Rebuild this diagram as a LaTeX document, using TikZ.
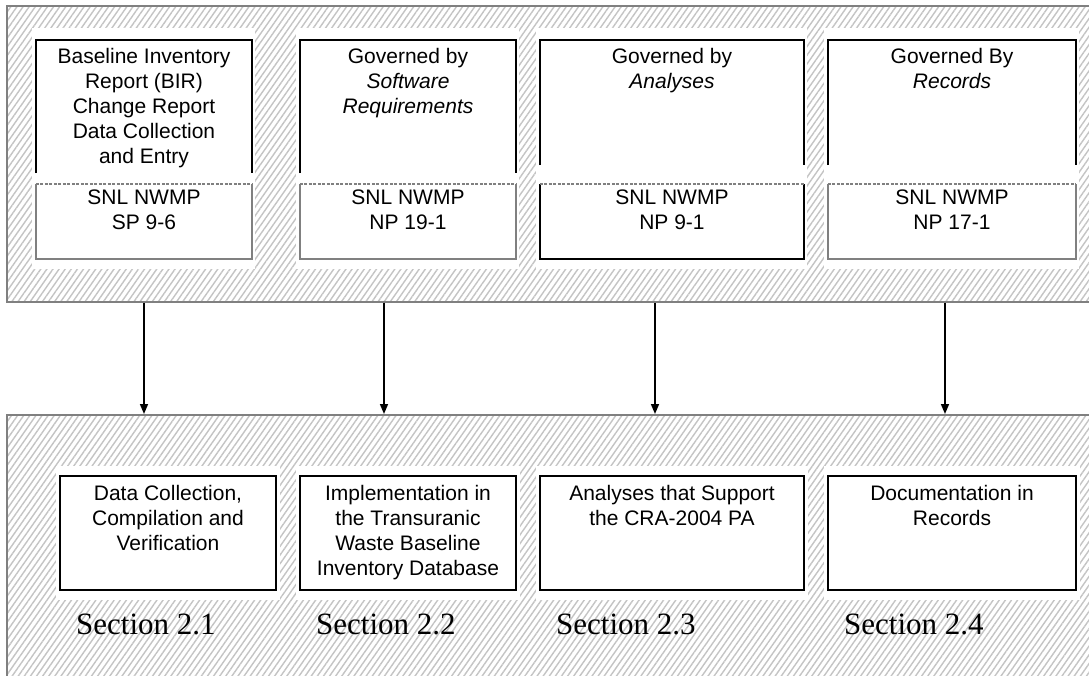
\documentclass[tikz,border=0pt]{standalone}
\usepackage{fontspec}
\setmainfont{Liberation Serif}
\newfontfamily\arial{Liberation Sans}
\usepackage{xcolor}
\usepackage{tikz}
\usetikzlibrary{arrows.meta,patterns.meta}
\definecolor{frame}{HTML}{808080}
\definecolor{hatch}{HTML}{C4C4C4}
\tikzset{
  outer/.style={draw=frame, line width=2pt, inner sep=0pt,
    pattern={Lines[angle=55,distance=5pt,line width=1.4pt]}, pattern color=hatch},
  pad/.style={fill=white, draw=none, inner sep=0pt},
  boxshape/.style={inner sep=0pt, fill=white},
  upline/.style={line width=1.6pt, draw=black},
  lowline/.style={line width=1.6pt, draw=frame},
  boxtxt/.style={font=\arial\fontsize{21}{25}\selectfont, align=center, anchor=north, inner sep=0pt},
  seclab/.style={font=\fontsize{31}{36}\selectfont, anchor=base west, inner sep=0pt},
  link/.style={line width=1.6pt, -{Triangle[length=10pt,width=8pt]}},
}

\begin{document}
\begin{tikzpicture}[x=1pt,y=-1pt]
  \useasboundingbox (0,0) rectangle (1089,676);
  \fill[white] (0,0) rectangle (1089,676);
  \clip (0,0) rectangle (1089,676);

  % hatched frames
  \node[outer, minimum width=1093pt, minimum height=296pt] (govern) at (553.5,154) {};
  \node[outer, minimum width=1093pt, minimum height=275pt] (result) at (553.5,552.5) {};

  % white pads behind the boxes
  \node[pad, minimum width=223pt, minimum height=241pt] (pad1) at (143.5,148.5) {};
  \node[pad, minimum width=223pt, minimum height=241pt] (pad2) at (407.5,148.5) {};
  \node[pad, minimum width=271pt, minimum height=241pt] (pad3) at (671.5,148.5) {};
  \node[pad, minimum width=255pt, minimum height=241pt] (pad4) at (951.5,148.5) {};
  \node[pad, minimum width=224pt, minimum height=134pt] (pad5) at (168,533) {};
  \node[pad, minimum width=224pt, minimum height=134pt] (pad6) at (408,533) {};
  \node[pad, minimum width=272pt, minimum height=134pt] (pad7) at (672,533) {};
  \node[pad, minimum width=256pt, minimum height=134pt] (pad8) at (952,533) {};

  % upper boxes (open at the bottom)
  \node[boxshape, minimum width=216pt, minimum height=133pt] (bir) at (144,106.5) {};
  \node[boxshape, minimum width=216pt, minimum height=133pt] (soft) at (408,106.5) {};
  \node[boxshape, minimum width=264pt, minimum height=125pt] (anal) at (672,102.5) {};
  \node[boxshape, minimum width=248pt, minimum height=125pt] (recs) at (952,102.5) {};
  \draw[upline] (bir.south west) |- (bir.north east) -- (bir.south east);
  \draw[upline] (soft.south west) |- (soft.north east) -- (soft.south east);
  \draw[upline] (anal.south west) |- (anal.north east) -- (anal.south east);
  \draw[upline] (recs.south west) |- (recs.north east) -- (recs.south east);

  \node[boxtxt] (birtxt) at ([yshift=-8pt]bir.north)
    {Baseline Inventory\\Report (BIR)\\Change Report\\Data Collection\\and Entry};
  \node[boxtxt] (softtxt) at ([yshift=-8pt]soft.north)
    {Governed by\\\textit{Software}\\\textit{Requirements}};
  \node[boxtxt] (analtxt) at ([yshift=-8pt]anal.north) {Governed by\\\textit{Analyses}};
  \node[boxtxt] (recstxt) at ([yshift=-8pt]recs.north) {Governed By\\\textit{Records}};

  % procedure boxes
  \node[boxshape, minimum width=216pt, minimum height=75pt] (sp96) at (144,221.5) {};
  \node[boxshape, minimum width=216pt, minimum height=75pt] (np191) at (408,221.5) {};
  \node[boxshape, minimum width=264pt, minimum height=75pt] (np91) at (672,221.5) {};
  \node[boxshape, minimum width=248pt, minimum height=75pt] (np171) at (952,221.5) {};
  \draw[lowline] (sp96.north west) |- (sp96.south east) -- (sp96.north east);
  \draw[lowline] (np191.north west) |- (np191.south east) -- (np191.north east);
  \draw[upline] (np91.north west) |- (np91.south east) -- (np91.north east);
  \draw[lowline] (np171.north west) |- (np171.south east) -- (np171.north east);
  \draw[lowline, dash pattern=on 3pt off 1.5pt] (sp96.north west) -- (sp96.north east);
  \draw[lowline, dash pattern=on 3pt off 1.5pt] (np191.north west) -- (np191.north east);
  \draw[lowline, dash pattern=on 3pt off 1.5pt] (np91.north west) -- (np91.north east);
  \draw[lowline, dash pattern=on 3pt off 1.5pt] (np171.north west) -- (np171.north east);

  \node[boxtxt] (sp96txt) at ([yshift=-6pt]sp96.north) {SNL NWMP\\SP 9-6};
  \node[boxtxt] (np191txt) at ([yshift=-6pt]np191.north) {SNL NWMP\\NP 19-1};
  \node[boxtxt] (np91txt) at ([yshift=-6pt]np91.north) {SNL NWMP\\NP 9-1};
  \node[boxtxt] (np171txt) at ([yshift=-6pt]np171.north) {SNL NWMP\\NP 17-1};

  % result boxes
  \node[boxshape, draw, line width=1.6pt, minimum width=216pt, minimum height=114pt] (collect) at (168,533) {};
  \node[boxshape, draw, line width=1.6pt, minimum width=216pt, minimum height=114pt] (impl) at (408,533) {};
  \node[boxshape, draw, line width=1.6pt, minimum width=264pt, minimum height=114pt] (support) at (672,533) {};
  \node[boxshape, draw, line width=1.6pt, minimum width=248pt, minimum height=114pt] (docs) at (952,533) {};

  \node[boxtxt] (collecttxt) at ([yshift=-10pt]collect.north)
    {Data Collection,\\Compilation and\\Verification};
  \node[boxtxt] (impltxt) at ([yshift=-10pt]impl.north)
    {Implementation in\\the Transuranic\\Waste Baseline\\Inventory Database};
  \node[boxtxt] (supporttxt) at ([yshift=-10pt]support.north)
    {Analyses that Support\\the CRA-2004 PA};
  \node[boxtxt] (docstxt) at ([yshift=-10pt]docs.north) {Documentation in\\Records};

  \node[seclab] (sec1) at (76,634) {Section 2.1};
  \node[seclab] (sec2) at (316,634) {Section 2.2};
  \node[seclab] (sec3) at (556,634) {Section 2.3};
  \node[seclab] (sec4) at (844,634) {Section 2.4};

  % arrows between the frames
  \coordinate (a1) at (144,360);
  \coordinate (a2) at (384,360);
  \coordinate (a3) at (655,360);
  \coordinate (a4) at (945,360);
  \draw[link] (a1 |- govern.south) -- (a1 |- result.north);
  \draw[link] (a2 |- govern.south) -- (a2 |- result.north);
  \draw[link] (a3 |- govern.south) -- (a3 |- result.north);
  \draw[link] (a4 |- govern.south) -- (a4 |- result.north);
\end{tikzpicture}
\end{document}
